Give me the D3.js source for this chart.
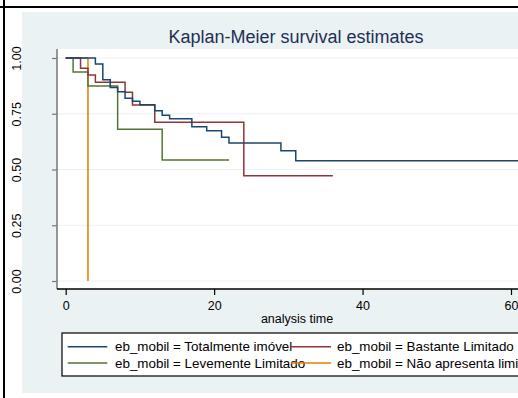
<!DOCTYPE html>
<html>
<head>
<meta charset="utf-8">
<script src="https://cdn.jsdelivr.net/npm/d3@7"></script>
<style>
  body { margin: 0; background: #fff; }
  text { font-family: "Liberation Sans", Arial, sans-serif; }
</style>
</head>
<body>
<script>
// Kaplan-Meier estimates per group (time, survival)
var timesImovel = [0, 4, 5, 6, 7, 8, 9, 10, 12, 13, 14, 17, 19, 21, 22, 29, 31, 64];
var survImovel  = [1, 0.973, 0.903, 0.868, 0.849, 0.819, 0.806, 0.790, 0.763, 0.743, 0.728, 0.692, 0.674, 0.645, 0.619, 0.584, 0.539, 0.539];

var timesBastante = [0, 2, 3, 4, 8, 9, 12, 24, 36];
var survBastante  = [1, 0.954, 0.924, 0.891, 0.846, 0.789, 0.712, 0.472, 0.472];

var timesLevemente = [0, 1, 3, 7, 13, 22];
var survLevemente  = [1, 0.9375, 0.875, 0.68, 0.543, 0.543];

var timesNao = [0, 3, 3];
var survNao  = [1, 1, 0];

var groupLabels = [
    "eb_mobil = Totalmente imóvel",
    "eb_mobil = Bastante Limitado",
    "eb_mobil = Levemente Limitado",
    "eb_mobil = Não apresenta limitações"
];
var xTicks = [0, 20, 40, 60];
var yTicks = [0, 0.25, 0.5, 0.75, 1];

var colors = ["#1a476f", "#90353b", "#55752f", "#e37e00"];

var width = 518,
    height = 398;

var svg = d3.select("body")
    .append("svg")
    .attr("width", width)
    .attr("height", height);

// outer frame (cell borders) and Stata background
svg.append("rect").attr("x", 22).attr("y", 12).attr("width", width - 22).attr("height", 381).attr("fill", "#eaf2f3");
svg.append("line").attr("x1", 0).attr("x2", width).attr("y1", 7).attr("y2", 7).attr("stroke", "#000").attr("stroke-width", 2);
svg.append("line").attr("x1", 4).attr("x2", 4).attr("y1", 0).attr("y2", height).attr("stroke", "#000").attr("stroke-width", 2);

// plot region
svg.append("rect").attr("x", 57).attr("y", 49).attr("width", width - 57).attr("height", 240).attr("fill", "#fff");

var x = d3.scaleLinear().domain([0, 60]).range([65.7, 511]);
var y = d3.scaleLinear().domain([0, 1]).range([281, 58]);

// gridlines
svg.selectAll(".grid")
    .data(yTicks)
    .enter()
    .append("line")
    .attr("x1", 57).attr("x2", width)
    .attr("y1", d => y(d)).attr("y2", d => y(d))
    .attr("stroke", "#eaf2f3").attr("stroke-width", 1.2);

// title
svg.append("text")
    .attr("x", 296).attr("y", 42.5)
    .attr("text-anchor", "middle")
    .attr("font-size", 18)
    .attr("fill", "#1e2f55")
    .text("Kaplan-Meier survival estimates");

// y axis
var yAxis = svg.append("g").attr("transform", "translate(57,0)")
    .call(d3.axisLeft(y).tickValues(yTicks).tickSize(5).tickFormat(d3.format(".2f")));
yAxis.select(".domain").attr("d", "M0,49V289").attr("stroke", "#777").attr("stroke-width", 1.5);
yAxis.selectAll(".tick line").attr("stroke", "#777").attr("stroke-width", 1.2);
yAxis.selectAll(".tick text")
    .attr("transform", "rotate(-90)")
    .attr("x", 0).attr("y", -36.5)
    .attr("dy", null)
    .attr("text-anchor", "middle")
    .attr("font-size", 12.5)
    .attr("fill", "#000");

// x axis
var xAxis = svg.append("g").attr("transform", "translate(0,289)")
    .call(d3.axisBottom(x).tickValues(xTicks).tickSize(6).tickFormat(d3.format("d")));
xAxis.select(".domain").attr("d", "M57,0H" + width).attr("stroke", "#000").attr("stroke-width", 1.5);
xAxis.selectAll(".tick line").attr("stroke", "#000").attr("stroke-width", 1.2);
xAxis.selectAll(".tick text")
    .attr("y", 21).attr("dy", null)
    .attr("font-size", 12.5)
    .attr("fill", "#000");

svg.append("text")
    .attr("x", 297).attr("y", 322.5)
    .attr("text-anchor", "middle")
    .attr("font-size", 12.5)
    .text("analysis time");

// survival curves
var series = [
    [timesImovel, survImovel],
    [timesBastante, survBastante],
    [timesLevemente, survLevemente],
    [timesNao, survNao]
];

var line = d3.line()
    .x(d => x(d[0]))
    .y(d => y(d[1]))
    .curve(d3.curveStepAfter);

// draw order: orange first so others sit on top at t=0
[3, 2, 1, 0].forEach(function (i) {
    var pts = series[i][0].map((t, j) => [t, series[i][1][j]]);
    svg.append("path")
        .datum(pts)
        .attr("fill", "none")
        .attr("stroke", colors[i])
        .attr("stroke-width", 1.5)
        .attr("d", line);
});

// legend
var legend = svg.append("g");
legend.append("rect")
    .attr("x", 62).attr("y", 333)
    .attr("width", 520).attr("height", 43)
    .attr("fill", "#fff").attr("stroke", "#000").attr("stroke-width", 1.2);

var colX = [[67.7, 107.3, 115], [291, 331, 337]];
var rowY = [346.7, 363];
[0, 1, 2, 3].forEach(function (i) {
    var c = colX[i % 2], r = rowY[Math.floor(i / 2)];
    legend.append("text")
        .attr("x", c[2]).attr("y", r + 4.6)
        .attr("font-size", 13.4)
        .text(groupLabels[i]);
});
[0, 1, 2, 3].forEach(function (i) {
    var c = colX[i % 2], r = rowY[Math.floor(i / 2)];
    legend.append("line")
        .attr("x1", c[0]).attr("x2", c[1])
        .attr("y1", r).attr("y2", r)
        .attr("stroke", colors[i]).attr("stroke-width", 1.5);
});
</script>
</body>
</html>
